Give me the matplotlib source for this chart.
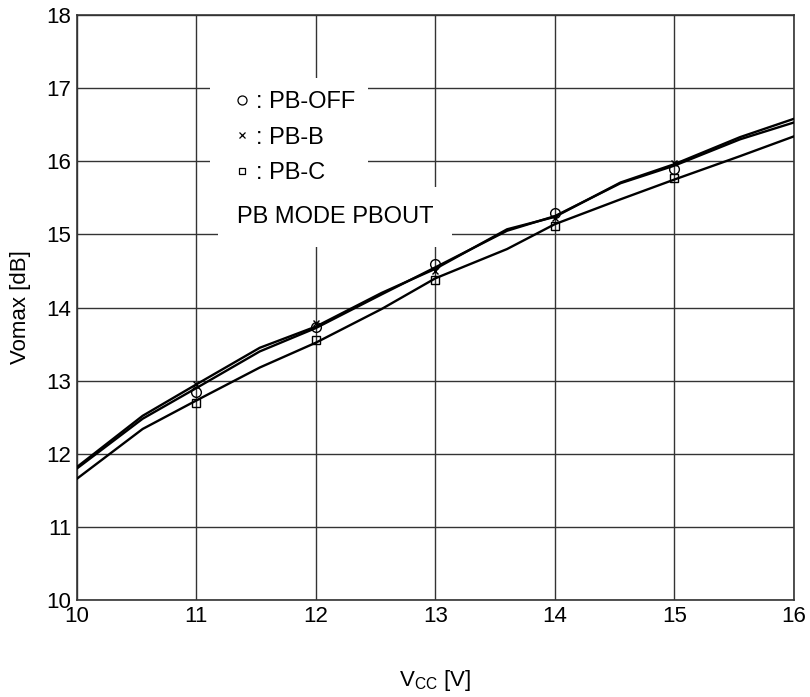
import matplotlib
matplotlib.use("Agg")
import matplotlib.pyplot as plt
from matplotlib.lines import Line2D

plt.rcParams["font.family"] = ["Liberation Sans", "DejaVu Sans"]
plt.rcParams["mathtext.fontset"] = "custom"
plt.rcParams["mathtext.rm"] = "Liberation Sans"

# curve vertices (Vcc [V])
curve_x = [10, 10.55, 11, 11.53, 12, 12.55, 13, 13.6, 14, 14.55, 15, 15.55, 16]
pb_off_line = [11.80, 12.48, 12.90, 13.40, 13.72, 14.18, 14.55, 15.05, 15.25, 15.70, 15.94, 16.30, 16.53]
pb_b_line = [11.82, 12.52, 12.95, 13.45, 13.74, 14.20, 14.53, 15.07, 15.24, 15.71, 15.96, 16.33, 16.58]
pb_c_line = [11.66, 12.34, 12.73, 13.18, 13.52, 13.98, 14.40, 14.80, 15.14, 15.48, 15.75, 16.07, 16.34]

# measured points
meas_x = [11, 12, 13, 14, 15]
pb_off_pts = [12.85, 13.73, 14.60, 15.29, 15.90]
pb_b_pts = [12.95, 13.79, 14.50, 15.23, 15.98]
pb_c_pts = [12.70, 13.56, 14.37, 15.11, 15.77]

x_ticks = [10, 11, 12, 13, 14, 15, 16]
y_ticks = [10, 11, 12, 13, 14, 15, 16, 17, 18]

fig = plt.figure(figsize=(8.1, 6.97), dpi=100)
ax = fig.add_axes([0.095, 0.139, 0.885, 0.8395])

for line in (pb_off_line, pb_b_line, pb_c_line):
    ax.plot(curve_x, line, color="black", lw=1.7, zorder=3)

ax.plot(meas_x, pb_off_pts, ls="none", marker="o", ms=7, mfc="none", mec="black", mew=1, zorder=4)
ax.plot(meas_x, pb_b_pts, ls="none", marker="x", ms=5, mec="black", mew=1, zorder=4)
ax.plot(meas_x, pb_c_pts, ls="none", marker="s", ms=5.5, mfc="none", mec="black", mew=1, zorder=4)

ax.set_xlim(10, 16)
ax.set_ylim(10, 18)
ax.set_xticks(x_ticks)
ax.set_yticks(y_ticks)
ax.tick_params(length=0, labelsize=16, pad=4)
ax.grid(True, color="#333333", lw=1)
ax.set_axisbelow(True)
for s in ax.spines.values():
    s.set_color("#333333")
    s.set_linewidth(1.2)

ax.set_xlabel(r"V$_\mathregular{CC}$ [V]", fontsize=16, labelpad=30)
ax.set_ylabel("Vomax [dB]", fontsize=16, labelpad=11)

handles = [
    Line2D([], [], ls="none", marker="o", ms=6.5, mfc="none", mec="black", mew=0.9),
    Line2D([], [], ls="none", marker="x", ms=4.5, mec="black", mew=0.9),
    Line2D([], [], ls="none", marker="s", ms=5, mfc="none", mec="black", mew=0.9),
]
leg = ax.legend(handles, [": PB-OFF", ": PB-B", ": PB-C"], loc="upper left",
                bbox_to_anchor=(0.1855, 0.892), borderaxespad=0, fontsize=17,
                handlelength=1.6, handletextpad=-0.2, labelspacing=0.57,
                borderpad=0.55, fancybox=False, framealpha=1,
                facecolor="white", edgecolor="none")
leg.set_zorder(5)

ax.text(0.223, 0.655, "PB MODE PBOUT", transform=ax.transAxes, fontsize=17,
        va="center", ha="left", zorder=5,
        bbox=dict(boxstyle="square,pad=0.8", facecolor="white", edgecolor="none"))

fig.savefig("out.png", dpi=100)
